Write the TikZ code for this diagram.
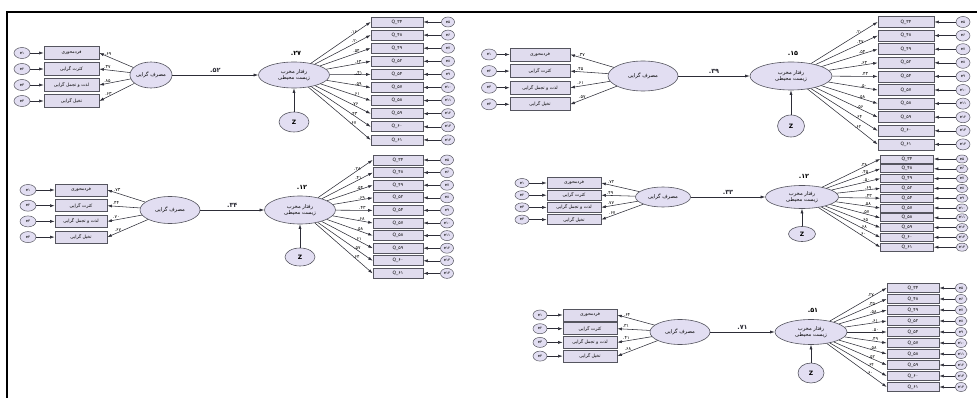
\documentclass[tikz,border=0pt]{standalone}
\usepackage{fontspec}
\setmainfont{Liberation Sans}
\newfontfamily\fa[Script=Arabic]{DejaVu Sans}
\TeXXeTstate=1
\usepackage{tikz}
\usetikzlibrary{shapes.geometric, arrows.meta, positioning}
\definecolor{boxfill}{RGB}{224,220,238}
\definecolor{latfill}{RGB}{226,222,242}
\definecolor{edgegray}{RGB}{85,85,95}
\definecolor{arrowgray}{RGB}{45,45,55}
\tikzset{
  obs/.style={rectangle, draw=edgegray, fill=boxfill, line width=0.7pt,
    inner sep=0pt, font=\fa\fontsize{4.5}{5}\selectfont},
  latent/.style={ellipse, draw=edgegray, fill=latfill, line width=0.6pt,
    inner sep=0pt, align=center, font=\fa\fontsize{5.2}{6.4}\selectfont},
  err/.style={ellipse, draw=edgegray, fill=latfill, line width=0.5pt,
    inner sep=0pt, font=\fa\fontsize{3.8}{4}\selectfont},
  zvar/.style={ellipse, draw=edgegray, fill=latfill, line width=0.6pt,
    inner sep=0pt, font=\fa\bfseries\fontsize{6}{7}\selectfont},
  arrow/.style={-{Latex[length=4.5pt,width=3pt]}, line width=0.55pt, color=arrowgray},
  coef/.style={font=\fa\fontsize{4.6}{5}\selectfont, inner sep=0.6pt, text=black},
  pathcoef/.style={font=\fa\bfseries\fontsize{6.5}{7}\selectfont, inner sep=1pt}
}
% parameters of one model
\pgfkeys{/sem/.cd,
  ex/.store in=\semEx, ew/.store in=\semEw, eh/.store in=\semEh,
  bx/.store in=\semBx, bw/.store in=\semBw, bh/.store in=\semBh,
  by/.store in=\semBy, bs/.store in=\semBs,
  cx/.store in=\semCx, cy/.store in=\semCy, cw/.store in=\semCw, ch/.store in=\semCh,
  dx/.store in=\semDx, dw/.store in=\semDw, dh/.store in=\semDh,
  zy/.store in=\semZy, zw/.store in=\semZw, zh/.store in=\semZh,
  qx/.store in=\semQx, qw/.store in=\semQw, qh/.store in=\semQh,
  qy/.store in=\semQy, qs/.store in=\semQs,
  fx/.store in=\semFx, fw/.store in=\semFw, fh/.store in=\semFh,
  ew=15, eh=10, fw=13, fh=10, zw=28, zh=20}
\newcommand{\indname}[1]{\ifcase#1\or فردمحوری\or کثرت گرایی\or لذت و تجمل گرایی\or تخیل گرایی\fi}
\newcommand{\itemname}[1]{\ifcase#1\or ۳۴\or ۴۸\or ۴۹\or ۵۲\or ۵۴\or ۵۷\or ۵۸\or ۵۹\or ۶۰\or ۶۱\fi}
\newcommand{\errname}[1]{\ifcase#1\or ۱\or ۲\or ۳\or ۴\or ۵\or ۶\or ۷\or ۸\or ۹\or ۱۰\or ۱۱\or ۱۲\or ۱۳\or ۱۴\fi}
\newcommand{\dotnum}[1]{\hbox{.}\hbox{#1}}
% #2 prefix, #3 indicator loadings, #4 item loadings, #5 path, #6 R2
\newcommand{\semmodel}[6][]{%
  \pgfkeys{/sem/.cd,#1}%
  % latent variables
  \node[latent, minimum width=\semCw pt, minimum height=\semCh pt] (#2c) at (\semCx,\semCy) {\beginR مصرف گرایی\endR};
  \node[latent, minimum width=\semDw pt, minimum height=\semDh pt] (#2d) at (\semDx,\semCy) {\beginR رفتار مخرب\endR\\\beginR زیست محیطی\endR};
  \node[zvar, minimum width=\semZw pt, minimum height=\semZh pt] (#2z) at (\semDx,\semZy) {Z};
  \node[pathcoef, above=5pt of #2d, xshift=2pt] (#2r) {\dotnum{#6}};
  \draw[arrow] (#2c) -- node[pathcoef, above=1pt] {\dotnum{#5}} (#2d);
  \draw[arrow] (#2z) -- (#2d);
  % indicators
  \foreach \w [count=\i] in {#3}{
    \pgfmathsetmacro{\yy}{\semBy+(\i-1)*\semBs}
    \node[obs, minimum width=\semBw pt, minimum height=\semBh pt] (#2b\i) at (\semBx,\yy) {\beginR\indname{\i}\endR};
    \node[err, minimum width=\semEw pt, minimum height=\semEh pt] (#2e\i) at (\semEx,\yy) {\hbox{e}\hbox{\errname{\i}}};
    \draw[arrow] (#2e\i) -- (#2b\i);
    \draw[arrow] (#2c) -- node[coef, pos=0.74, above=0.5pt] {\dotnum{\w}} (#2b\i.east);
  }
  % items
  \foreach \w [count=\i] in {#4}{
    \pgfmathsetmacro{\yy}{\semQy+(\i-1)*\semQs}
    \node[obs, minimum width=\semQw pt, minimum height=\semQh pt] (#2q\i) at (\semQx,\yy) {\hbox{Q\_}\hbox{\itemname{\i}}};
    \node[err, minimum width=\semFw pt, minimum height=\semFh pt] (#2f\i) at (\semFx,\yy) {\hbox{e}\hbox{\errname{\numexpr\i+4\relax}}};
    \draw[arrow] (#2f\i) -- (#2q\i);
    \draw[arrow] (#2d) -- node[coef, pos=0.72, above=-0.5pt] {\dotnum{\w}} (#2q\i.west);
  }
}
\begin{document}
\begin{tikzpicture}[x=1pt, y=-1pt]
  \useasboundingbox (0,0) rectangle (977,398);
  \draw[line width=2pt] (7,398) -- (7,12) -- (977,12);

  % top left
  \semmodel[ex=22, ew=16, eh=11, bx=71.5, bw=55, bh=13, by=53, bs=16,
    cx=151, cy=75, cw=40, ch=26, dx=294, dw=71, dh=26, zy=122, zw=30, zh=20,
    qx=397, qw=52, qh=10, qy=22, qs=13.1, fx=448]{a}
    {۶۹,۳۷,۸۵,۶۳}{۱۶,۲۰,۵۴,۶۳,۴۱,۵۹,۶۱,۷۶,۴۳,۶۷}{۵۲}{۲۷}

  % middle left
  \semmodel[ex=28, ew=16, eh=11, bx=81, bw=52, bh=12, by=190, bs=15.7,
    cx=170, cy=210, cw=60, ch=27, dx=300, dw=71, dh=28, zy=257, zw=30, zh=18,
    qx=398, qw=50, qh=10, qy=160, qs=12.6, fx=447]{b}
    {۷۳,۴۴,۷۰,۶۷}{۲۸,۴۱,۵۴,۶۹,۴۳,۶۸,۵۸,۶۱,۵۷,۶۴}{۳۴}{۱۲}

  % top right
  \semmodel[ex=489, ew=15, eh=11, bx=540, bw=60, bh=13, by=54.5, bs=16.6,
    cx=643, cy=76, cw=70, ch=30, dx=791, dw=82, dh=28, zy=126, zw=27, zh=22,
    qx=906, qw=56, qh=11, qy=22, qs=13.6, fx=963, fw=14, fh=11]{c}
    {۳۷,۴۵,۶۱,۵۷}{۲۰,۴۷,۵۴,۶۳,۴۳,۵۰,۵۸,۵۶,۶۴,۶۲}{۳۹}{۱۵}

  % middle right
  \semmodel[ex=522, ew=14, eh=9, bx=574, bw=54, bh=10.5, by=183, bs=12.2,
    cx=663, cy=197, cw=55, ch=20, dx=802, dw=73, dh=23, zy=234, zw=27, zh=15,
    qx=907, qw=53, qh=8, qy=159, qs=9.8, fx=962, fw=12, fh=8]{d}
    {۷۲,۴۹,۷۷,۶۷}{۳۸,۴۵,۵۰,۶۹,۴۳,۵۸,۵۷,۶۵,۶۸,۶۰}{۳۳}{۱۲}

  % bottom right
  \semmodel[ex=540, ew=14, eh=10, bx=590, bw=54, bh=12, by=315, bs=13.7,
    cx=680, cy=332, cw=60, ch=25, dx=811, dw=72, dh=25, zy=373, zw=26, zh=20,
    qx=913, qw=52, qh=8.5, qy=288, qs=11, fx=961, fw=12, fh=9]{e}
    {۶۴,۳۱,۴۱,۶۸}{۲۷,۳۵,۵۸,۶۱,۵۰,۴۹,۵۸,۵۲,۶۴,۶۰}{۷۱}{۵۱}
\end{tikzpicture}
\end{document}
